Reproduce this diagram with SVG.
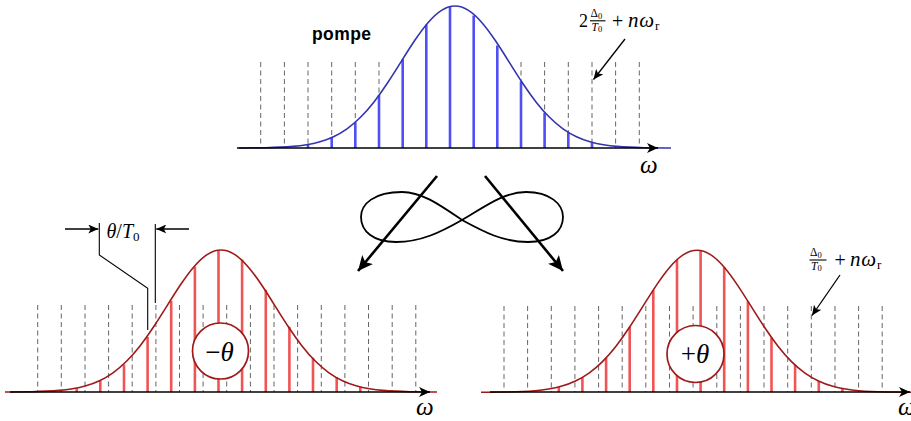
<svg xmlns="http://www.w3.org/2000/svg" xmlns:xlink="http://www.w3.org/1999/xlink" width="911" height="421" viewBox="0 0 911 421">
<style>
.dash{fill:none;stroke:#555;stroke-width:0.9;stroke-dasharray:5,3.5}
.blue{fill:none;stroke:#4f4ff5;stroke-width:2.6}
.red{fill:none;stroke:#f05555;stroke-width:2.6}
.bcurve{fill:none;stroke:#3434b0;stroke-width:1.6}
.rcurve{fill:none;stroke:#9e1a1a;stroke-width:1.6}
.axis{fill:none;stroke:#000;stroke-width:1.6;marker-end:url(#ah)}
.big{fill:none;stroke:#000;stroke-width:2.6;marker-end:url(#bh)}
.thin{fill:none;stroke:#000;stroke-width:1.3;marker-end:url(#th)}
.ln{fill:none;stroke:#000;stroke-width:1.1}
.m{font-family:"Liberation Serif","DejaVu Serif",serif;fill:#000}
.it{font-style:italic}
.circ{fill:#fff;stroke:#9e1a1a;stroke-width:1.7}
</style>
<defs>
<marker id="ah" markerUnits="userSpaceOnUse" markerWidth="12" markerHeight="10" refX="11" refY="5" orient="auto"><path d="M0,0 L11,5 L0,10 L3,5 z" fill="#000"/></marker>
<marker id="bh" markerUnits="userSpaceOnUse" markerWidth="16" markerHeight="14" refX="15" refY="7" orient="auto"><path d="M0,0 L15,7 L0,14 L3.5,7 z" fill="#000"/></marker>
<marker id="th" markerUnits="userSpaceOnUse" markerWidth="11" markerHeight="9" refX="10" refY="4.5" orient="auto"><path d="M0,0 L10,4.5 L0,9 L2.5,4.5 z" fill="#000"/></marker>
<path id="gauss" d="M -216,0 C -207,-0.08 -198,-0.13 -189,-0.31 C -180,-0.49 -171,-0.79 -162,-1.58 C -157.5,-1.97 -153,-2.50 -148.5,-3.24 C -144,-3.98 -139.5,-4.94 -135,-6.24 C -130.5,-7.54 -126,-9.18 -121.5,-11.30 C -117,-13.42 -112.5,-16.02 -108,-19.22 C -103.5,-22.42 -99,-26.23 -94.5,-30.71 C -90,-35.19 -85.5,-40.34 -81,-46.10 C -76.5,-51.86 -72,-58.24 -67.5,-65.01 C -63,-71.78 -58.5,-78.95 -54,-86.13 C -49.5,-93.31 -45,-100.49 -40.5,-107.19 C -36,-113.89 -31.5,-120.09 -27,-125.31 C -22.5,-130.53 -18,-134.76 -13.5,-137.63 C -9,-140.50 -4.5,-142 0,-142 C 4.5,-142 9,-140.50 13.5,-137.63 C 18,-134.76 22.5,-130.53 27,-125.31 C 31.5,-120.09 36,-113.89 40.5,-107.19 C 45,-100.49 49.5,-93.31 54,-86.13 C 58.5,-78.95 63,-71.78 67.5,-65.01 C 72,-58.24 76.5,-51.86 81,-46.10 C 85.5,-40.34 90,-35.19 94.5,-30.71 C 99,-26.23 103.5,-22.42 108,-19.22 C 112.5,-16.02 117,-13.42 121.5,-11.30 C 126,-9.18 130.5,-7.54 135,-6.24 C 139.5,-4.94 144,-3.98 148.5,-3.24 C 153,-2.50 157.5,-1.97 162,-1.58 C 171,-0.79 180,-0.49 189,-0.31 C 198,-0.13 207,-0.08 216,0"/>
</defs>

<g id="pump">
<path class="dash" d="M260.7 62V148M284.4 62V148M308 62V148M331.7 62V148M355.3 62V148M379 62V148M402.7 62V148M426.3 62V148M450 62V148M473.7 62V148M497.3 62V148M521 62V148M544.6 62V148M568.3 62V148M592 62V148M615.6 62V148M639.3 62V148"/>
<path class="blue" d="M308 148V144.5M331.7 148V137.5M355.3 148V122.2M379 148V95.2M402.7 148V59.2M426.3 148V24.7M450 148V6.8M473.7 148V15.5M497.3 148V45.5M521 148V81.5M544.6 148V112.8M568.3 148V132.4M592 148V142.4"/>
<use xlink:href="#gauss" class="bcurve" transform="translate(455,148)"/>
<path class="axis" d="M237 148H658"/>
<text class="m it" x="640" y="173" font-size="25">ω</text>
<text x="312" y="40" font-family="Liberation Sans, Arial, sans-serif" font-weight="bold" font-size="17.5" letter-spacing="0.4">pompe</text>
</g>

<g id="pump-label">
<text class="m" x="579" y="26.7" font-size="18">2</text>
<text class="m" x="590.5" y="17" font-size="11.5">Δ<tspan font-size="8.5" dy="1.5">0</tspan></text>
<path class="ln" stroke-width="0.7" d="M590 20.8H605.5"/>
<text class="m it" x="591.5" y="31" font-size="11.5">T<tspan font-size="8.5" dy="1" font-style="normal">0</tspan></text>
<text class="m" x="612" y="28" font-size="20">+</text>
<text class="m it" x="628" y="27" font-size="21" letter-spacing="0.8">nω<tspan font-size="13" dy="3" font-style="normal">r</tspan></text>
</g>

<g id="left">
<path class="dash" d="M37.7 305V392M61.3 305V392M85 305V392M108.6 305V392M132.2 305V392M155.9 305V392M179.5 305V392M203.1 305V392M226.7 305V392M250.4 305V392M274 305V392M297.6 305V392M321.3 305V392M344.9 305V392M368.5 305V392M392.2 305V392M415.8 305V392"/>
<path class="red" d="M76.7 392V388.2M100.3 392V380.8M124 392V364.6M147.6 392V337M171.2 392V300.8M194.9 392V266.8M218.5 392V250.5M242.1 392V259.5M265.8 392V289.8M289.4 392V326.8M313 392V357.7M336.7 392V377.1M360.3 392V386.7"/>
<use xlink:href="#gauss" class="rcurve" transform="translate(221,392)"/>
<path class="axis" d="M10 392H430"/>
<text class="m it" x="416" y="415" font-size="25">ω</text>
<circle class="circ" cx="220.5" cy="351" r="28"/>
<text class="m" x="219.5" y="361" font-size="27" text-anchor="middle">−<tspan class="it">θ</tspan></text>
</g>

<g id="shift">
<path class="ln" d="M99.3 223V255L147.7 288.3V330M155.3 224V303"/>
<path class="thin" d="M65 229H98.3"/>
<path class="thin" d="M189 229H156.3"/>
<text class="m" x="106.5" y="238" font-size="20"><tspan class="it">θ</tspan>/<tspan class="it">T</tspan><tspan font-size="13" dy="3">0</tspan></text>
</g>

<g id="right">
<path class="dash" d="M504 306V392M527.6 306V392M551.3 306V392M574.9 306V392M598.6 306V392M622.2 306V392M645.8 306V392M669.5 306V392M693.1 306V392M716.8 306V392M740.4 306V392M764 306V392M787.7 306V392M811.3 306V392M835 306V392M858.6 306V392M882.2 306V392"/>
<path class="red" d="M558.8 392V387M582.4 392V377.4M606.1 392V357.9M629.7 392V327M653.3 392V290M677 392V259.7M700.6 392V250.7M724.2 392V267.2M747.9 392V301.2M771.5 392V337.5M795.1 392V365M818.8 392V381.1M842.4 392V388.5"/>
<use xlink:href="#gauss" class="rcurve" transform="translate(697,392.3)"/>
<path class="axis" d="M490 392H910"/>
<text class="m it" x="898" y="415" font-size="25">ω</text>
<circle class="circ" cx="695.5" cy="354" r="28.5"/>
<text class="m" x="695" y="363" font-size="27" text-anchor="middle">+<tspan class="it">θ</tspan></text>
</g>

<g id="right-label">
<text class="m" x="810" y="256.2" font-size="11.5">Δ<tspan font-size="8.5" dy="1.5">0</tspan></text>
<path class="ln" stroke-width="0.7" d="M809.5 260H826.5"/>
<text class="m it" x="811" y="270.2" font-size="11.5">T<tspan font-size="8.5" dy="1" font-style="normal">0</tspan></text>
<text class="m" x="834.5" y="267" font-size="20">+</text>
<text class="m it" x="850" y="265.5" font-size="21" letter-spacing="0.8">nω<tspan font-size="13" dy="3" font-style="normal">r</tspan></text>
</g>

<g id="crossing">
<path fill="none" stroke="#000" stroke-width="1.8" d="M462,220 C440,205 422,192 402,192 C374,192 361,204 361,217 C361,231 373,242 396,242 C421,242 441,232 462,220 C483,208 503,192 526,192 C550,192 563,204 563,217 C563,231 551,242 528,242 C503,242 484,232 462,220 Z"/>
</g>

<g id="connectors">
<path class="big" d="M437 176L358 271"/>
<path class="big" d="M485 176L563 271"/>
<path class="thin" d="M625 39L593.5 79.5"/>
<path class="thin" d="M840 275L812 315.5"/>
</g>
</svg>
